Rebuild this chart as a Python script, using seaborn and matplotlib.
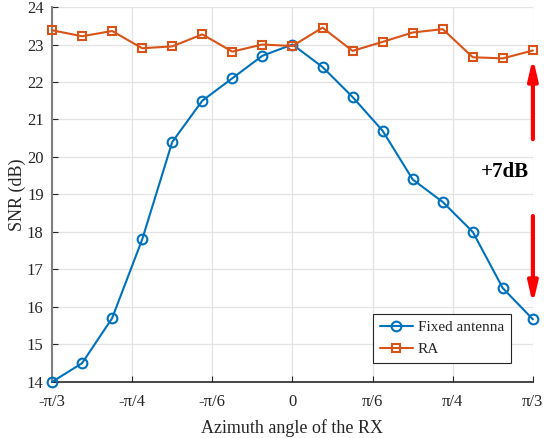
import numpy as np
import pandas as pd
import seaborn as sns
import matplotlib.pyplot as plt

angles = np.arange(-60, 60.1, 7.5)
fixed_snr = [14.0, 14.5, 15.7, 17.8, 20.4, 21.5, 22.1, 22.7, 23.0,
             22.4, 21.6, 20.7, 19.4, 18.8, 18.0, 16.5, 15.67]
ra_snr = [23.38, 23.22, 23.36, 22.9, 22.95, 23.27, 22.81, 23.0, 22.96,
          23.45, 22.83, 23.07, 23.32, 23.41, 22.66, 22.63, 22.84]
tick_pos = [-60, -40, -20, 0, 20, 40, 60]
tick_labels = ["-\u03c0/3", "-\u03c0/4", "-\u03c0/6", "0", "\u03c0/6", "\u03c0/4", "\u03c0/3"]

df = pd.DataFrame({"angle": angles, "Fixed antenna": fixed_snr, "RA": ra_snr})

sns.set_style("whitegrid")
plt.rcParams['font.family'] = ['Liberation Serif', 'DejaVu Serif']

fig = plt.figure(figsize=(5.44, 4.38), dpi=100)
ax = fig.add_axes([0.0956, 0.128, 0.884, 0.856])

blue = "#0072BD"
orange = "#D95319"
sns.lineplot(data=df, x="angle", y="Fixed antenna", ax=ax, color=blue, marker="o",
             markersize=7, markerfacecolor="none", markeredgecolor=blue,
             markeredgewidth=1.5, linewidth=1.5, label="Fixed antenna", clip_on=False, zorder=3)
sns.lineplot(data=df, x="angle", y="RA", ax=ax, color=orange, marker="s",
             markersize=6, markerfacecolor="none", markeredgecolor=orange,
             markeredgewidth=1.5, linewidth=1.5, label="RA", clip_on=False, zorder=3)

ax.set_xlim(-60, 60)
ax.set_ylim(14, 24)
ax.set_xticks(tick_pos)
ax.set_xticklabels(tick_labels)
ax.set_yticks(range(14, 25))
ax.tick_params(axis="both", labelsize=12, direction="in", length=4, color="#262626",
               left=True, bottom=True, colors="#262626")
ax.tick_params(axis="x", pad=9)
ax.tick_params(axis="y", pad=6)
ax.grid(True, color="#e3e3e3", linewidth=0.9)
for s in ["top", "right"]:
    ax.spines[s].set_visible(False)
ax.spines["left"].set_color("#808080")
ax.spines["bottom"].set_color("#262626")
ax.spines["left"].set_linewidth(1.5)
ax.spines["bottom"].set_linewidth(1.2)

ax.set_xlabel("Azimuth angle of the RX", fontsize=13, color="#262626", labelpad=6)
ax.set_ylabel("SNR (dB)", fontsize=13, color="#262626", labelpad=1)

# gain arrows
arrow_style = dict(arrowstyle="-|>,head_width=0.28,head_length=1.2", color="red", lw=3)
ax.annotate("", xy=(60, 22.72), xytext=(60, 20.4), arrowprops=arrow_style)
ax.annotate("", xy=(60, 16.0), xytext=(60, 18.5), arrowprops=arrow_style)
ax.text(59, 19.6, "+7dB", fontsize=15, fontweight="bold", ha="right", va="center",
        color="black", bbox=dict(facecolor="white", edgecolor="none", pad=1))

leg = ax.legend(loc="lower right", bbox_to_anchor=(0.97, 0.03), fontsize=11,
                frameon=True, fancybox=False, edgecolor="#262626", framealpha=1,
                handlelength=2.2, handletextpad=0.3, borderpad=0.45, labelspacing=0.55)
leg.get_frame().set_linewidth(0.8)

plt.savefig("out.png", dpi=100)
